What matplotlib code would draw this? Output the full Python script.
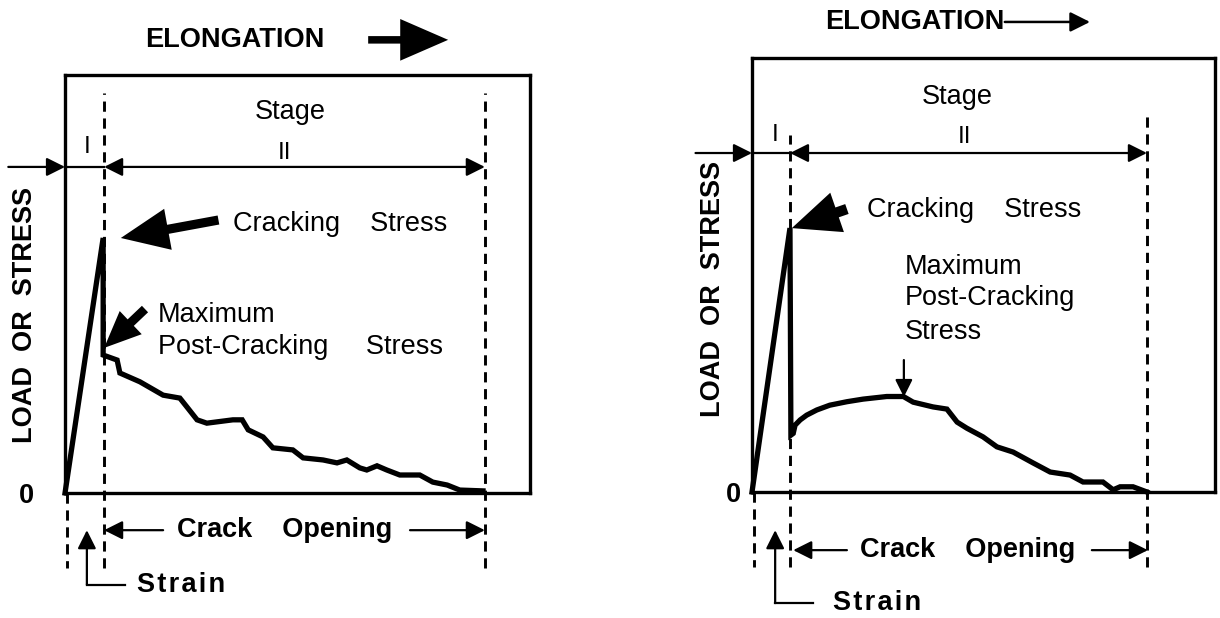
#%% Librerias
import numpy as np
import matplotlib.pyplot as plt
from matplotlib.patches import FancyArrowPatch

plt.rcParams['font.family'] = ['Liberation Sans', 'DejaVu Sans']

# %% Data (arbitrary units)
# left: stepwise softening after cracking
x_left = [0, 8.2, 8.2, 8.2, 11.2, 11.8, 16.1, 21.1, 24.7, 26.2, 28.4, 30.5, 36.1, 38.1,
          39.4, 42.6, 44.7, 49.0, 51.2, 55.5, 58.5, 60.6, 63.4, 64.9, 67.1, 69.2,
          72.0, 76.3, 79.1, 82.2, 84.9, 89.9]
y_left = [0, 61.0, 34.2, 33.0, 31.8, 28.7, 26.6, 23.4, 22.7, 20.6, 17.5, 16.7, 17.5, 17.5,
          15.1, 13.4, 10.8, 10.3, 8.4, 7.9, 7.2, 7.9, 6.0, 5.5, 6.5, 5.5,
          4.3, 4.3, 2.6, 1.9, 0.7, 0.5]

# right: post-cracking hardening then softening
x_right = [0, 8.2, 8.4, 8.9, 9.3, 10.4, 11.8, 14.0, 16.8, 20.5, 24.0, 29.1, 32.7, 34.8,
           39.1, 42.1, 44.3, 46.4, 49.9, 52.9, 56.4, 60.7, 64.4, 68.7, 71.5, 75.8,
           78.0, 79.5, 82.3, 85.3]
y_right = [0, 60.8, 13.1, 13.5, 15.4, 16.6, 17.7, 18.9, 20.0, 20.8, 21.4, 22.0, 22.0, 20.7,
           19.6, 19.1, 16.1, 14.7, 12.7, 10.4, 9.2, 6.7, 4.6, 3.9, 2.3, 2.3,
           0.5, 1.2, 1.2, 0.0]

crack_start = [8.4, 8.2]
crack_end = [90.3, 85.3]

# %% Figura
fig = plt.figure(figsize=(12.2, 6.18), dpi=100)
ax1 = fig.add_axes([0.0533, 0.2023, 0.3811, 0.6764])
ax2 = fig.add_axes([0.6164, 0.2039, 0.3795, 0.7023])

FS = 19.5
lw_box = 2.4
lw_curve = 3.8
strain_txt = '\u200a'.join('Strain')


def arrow(ax, p0, p1, style='-|>', ms=28, lw=1.6):
    a = FancyArrowPatch(p0, p1, arrowstyle=style, mutation_scale=ms, lw=lw,
                        color='k', shrinkA=0, shrinkB=0, clip_on=False)
    ax.add_patch(a)


def big_arrow(ax, p0, p1, tw=0.2, ms=26):
    a = FancyArrowPatch(p0, p1, arrowstyle=f'simple,head_length=1.15,head_width=1.0,tail_width={tw}',
                        mutation_scale=ms, color='k', lw=0, shrinkA=0, shrinkB=0, clip_on=False)
    ax.add_patch(a)


def base(ax, x, y, xs, xe, top_dash, top_dash0, stage_y, bot_dash):
    ax.plot(x, y, 'k-', lw=lw_curve, solid_joinstyle='miter', clip_on=False)
    ax.set_xlim(0, 100)
    ax.set_ylim(0, 100)
    for s in ax.spines.values():
        s.set_linewidth(lw_box)
    ax.set_xticks([])
    ax.set_yticks([0])
    ax.set_yticklabels(['0'], fontsize=FS, fontweight='bold')
    ax.tick_params(axis='y', length=0)
    # dashed guides
    dash = dict(color='k', lw=2.1, ls=(0, (3.5, 2.3)), clip_on=False)
    ax.plot([xs, xs], [bot_dash, top_dash0], **dash)
    ax.plot([xe, xe], [bot_dash, top_dash], **dash)
    ax.plot([0.5, 0.5], [0, bot_dash], **dash)
    # stage arrows
    arrow(ax, (-12.2, stage_y), (0, stage_y))
    ax.plot([0, xs], [stage_y, stage_y], 'k-', lw=1.6, clip_on=False)
    arrow(ax, (xs, stage_y), (xe, stage_y), style='<|-|>')


# %% Panel izquierdo
ax = ax1
base(ax, x_left, y_left, crack_start[0], crack_end[0], 95.7, 95.7, 78.0, -18)
ax.tick_params(axis='y', pad=22)
ax.text(36.6, 108.4, 'ELONGATION', fontsize=FS, fontweight='bold', ha='center', va='center')
big_arrow(ax, (65.2, 108.4), (82.4, 108.4), tw=0.18, ms=30)
ax.text(48.4, 91.1, 'Stage', fontsize=FS, ha='center', va='center')
ax.text(4.7, 82.8, 'I', fontsize=FS - 2, ha='center', va='center')
ax.text(47.1, 81.4, 'II', fontsize=FS - 2, ha='center', va='center')
ax.text(36.1, 64.4, 'Cracking    Stress', fontsize=FS, ha='left', va='center')
big_arrow(ax, (33.0, 65.3), (12.0, 61.0), tw=0.22, ms=30)
ax.text(20.0, 42.6, 'Maximum', fontsize=FS, ha='left', va='center')
ax.text(20.0, 34.9, 'Post-Cracking     Stress', fontsize=FS, ha='left', va='center')
big_arrow(ax, (17.2, 44.0), (8.4, 34.7), tw=0.28, ms=23)
ax.text(-8.6, 42.6, 'LOAD  OR  STRESS', fontsize=FS, fontweight='bold', rotation=90,
        ha='center', va='center')
ax.text(24.1, -8.9, 'Crack    Opening', fontsize=FS, fontweight='bold', ha='left', va='center')
arrow(ax, (21.1, -8.9), (8.4, -8.9))
arrow(ax, (74.2, -8.9), (90.3, -8.9))
arrow(ax, (4.7, -22.0), (4.7, -8.9))
ax.plot([4.7, 12.9], [-22.0, -22.0], 'k-', lw=1.6, clip_on=False)
ax.text(15.5, -22.0, strain_txt, fontsize=FS, fontweight='bold', ha='left', va='center')

# %% Panel derecho
ax = ax2
base(ax, x_right, y_right, crack_start[1], crack_end[1], 86.9, 82.3, 78.1, -17.3)
ax.tick_params(axis='y', pad=8)
ax.text(35.2, 108.3, 'ELONGATION', fontsize=FS, fontweight='bold', ha='center', va='center')
arrow(ax, (54.6, 108.3), (73.0, 108.3), ms=30, lw=1.8)
ax.text(44.3, 91.0, 'Stage', fontsize=FS, ha='center', va='center')
ax.text(5.0, 82.3, 'I', fontsize=FS - 2, ha='center', va='center')
ax.text(46.0, 81.8, 'II', fontsize=FS - 2, ha='center', va='center')
ax.text(24.8, 65.0, 'Cracking    Stress', fontsize=FS, ha='left', va='center')
big_arrow(ax, (20.5, 65.2), (8.6, 60.8), tw=0.25, ms=30)
ax.text(33.0, 51.8, 'Maximum', fontsize=FS, ha='left', va='center')
ax.text(33.0, 44.7, 'Post-Cracking', fontsize=FS, ha='left', va='center')
ax.text(33.0, 36.9, 'Stress', fontsize=FS, ha='left', va='center')
arrow(ax, (32.8, 30.4), (32.8, 21.9), ms=26)
ax.text(-8.4, 46.8, 'LOAD  OR  STRESS', fontsize=FS, fontweight='bold', rotation=90,
        ha='center', va='center')
ax.text(23.3, -13.4, 'Crack    Opening', fontsize=FS, fontweight='bold', ha='left', va='center')
arrow(ax, (20.5, -13.4), (8.9, -13.4))
arrow(ax, (73.4, -13.4), (85.5, -13.4))
arrow(ax, (5.0, -25.6), (5.0, -8.8))
ax.plot([5.0, 13.2], [-25.6, -25.6], 'k-', lw=1.6, clip_on=False)
ax.text(17.5, -25.6, strain_txt, fontsize=FS, fontweight='bold', ha='left', va='center')

plt.savefig('out.png', dpi=100)
